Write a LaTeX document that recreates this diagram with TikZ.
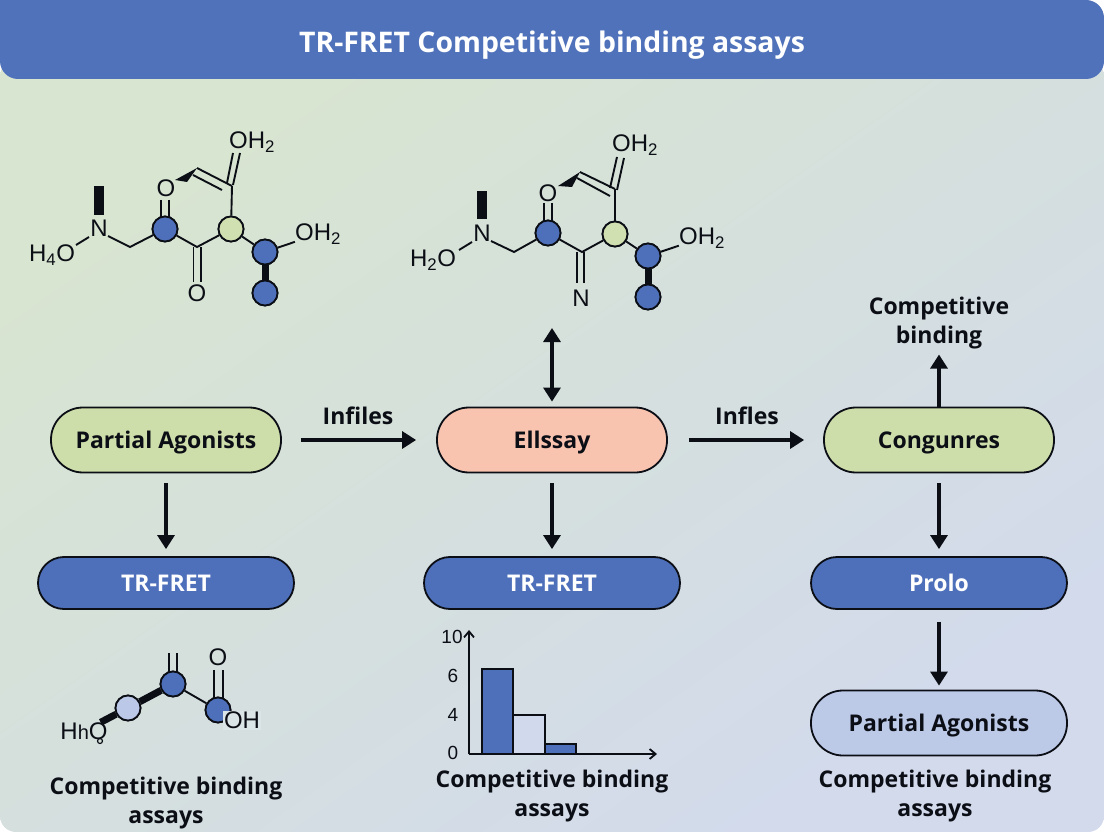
\documentclass[tikz,border=0pt]{standalone}
\usepackage{fontspec}
\setmainfont{Open Sans}
\newfontfamily\chemfont{Liberation Sans}
\usetikzlibrary{arrows.meta}
\definecolor{headblue}{RGB}{80,114,186}
\definecolor{pillblue}{RGB}{78,112,186}
\definecolor{pillgreen}{RGB}{205,222,170}
\definecolor{pillsalmon}{RGB}{248,196,176}
\definecolor{pilllav}{RGB}{188,201,231}
\definecolor{atomgreen}{RGB}{208,224,176}
\definecolor{atomlav}{RGB}{188,200,232}
\definecolor{barlight}{RGB}{208,218,236}
\definecolor{ink}{RGB}{12,14,22}
\definecolor{bgleft}{RGB}{216,229,208}
\definecolor{bgmid}{RGB}{219,228,230}
\definecolor{bgright}{RGB}{210,218,236}
\tikzset{
        pill/.style = {rectangle, draw=ink, line width=1.8pt, align=center, font=\fontsize{23}{27}\selectfont\bfseries, inner sep=0pt, text height=18pt, text depth=1.6pt},
        bigpill/.style = {pill, rounded corners=32pt, minimum width=230pt, minimum height=65pt},
        bluepill/.style = {pill, rounded corners=26pt, fill=pillblue, text=white, minimum width=256pt, minimum height=52pt},
        caption/.style = {align=center, text=ink, font=\fontsize{23}{29}\selectfont\bfseries},
        flow/.style = {line width=3.2pt, draw=ink, -{Triangle[width=17pt,length=14pt]}},
        atom/.style = {circle, draw=ink, line width=1.8pt, minimum size=25pt, inner sep=0pt},
        chem/.style = {text=ink, inner sep=0pt, font=\chemfont\fontsize{24}{24}\selectfont},
        tick/.style = {text=ink, inner sep=0pt, font=\chemfont\fontsize{19}{19}\selectfont},
        bond/.style = {line width=1.9pt, draw=ink},
        thickbond/.style = {line width=7pt, draw=ink},
        bar/.style = {draw=ink, line width=1.8pt}
}
\begin{document}
\begin{tikzpicture}[x=1pt, y=-1pt]
        \useasboundingbox (0,0) rectangle (1104,832);
        % backdrop and header
        \shade[top color=bgleft, middle color=bgmid, bottom color=bgright, shading angle=35, rounded corners=16pt] (0,60) rectangle (1104,832);
        \fill[headblue] (0,30) -- (0,0) [rounded corners=18pt] -- (1104,0) -- (1104,79) -- (0,79) [sharp corners] -- (0,30) -- cycle;
        \node[text=white, font=\fontsize{28.4}{32}\selectfont\bfseries] (title) at (552,45) {TR-FRET Competitive binding assays};

        % first row
        \node[bigpill, fill=pillgreen, text=ink] (partial) at (166,440) {Partial Agonists};
        \node[bigpill, fill=pillsalmon, text=ink] (essay) at (552,440) {Ellssay};
        \node[bigpill, fill=pillgreen, text=ink] (congunres) at (939,440) {Congunres};
        % second row
        \node[bluepill] (fretleft) at (166,583) {TR-FRET};
        \node[bluepill] (fretmid) at (552,583) {TR-FRET};
        \node[bluepill] (prolo) at (939,583) {Prolo};
        \node[pill, rounded corners=32pt, fill=pilllav, text=ink, minimum width=256pt, minimum height=65pt] (partialb) at (939,723) {Partial Agonists};

        \node[caption] (bindtop) at (939,323) {Competitive\\binding};
        \node[caption] (capleft) at (166,803) {Competitive binding\\assays};
        \node[caption] (capmid) at (552,796) {Competitive binding\\assays};
        \node[caption] (capright) at (935,796) {Competitive binding\\assays};
        \node[text=ink, font=\fontsize{23}{27}\selectfont\bfseries] (infiles) at (358,416) {Infiles};
        \node[text=ink, font=\fontsize{23}{27}\selectfont\bfseries] (infles) at (747,416) {Infles};

        \draw[flow, shorten <=19pt, shorten >=20pt] (partial) -- (essay);
        \draw[flow, shorten <=21pt, shorten >=19pt] (essay) -- (congunres);
        \draw[flow, shorten <=10pt, shorten >=7pt] (partial) -- (fretleft);
        \draw[flow, shorten <=10pt, shorten >=7pt] (essay) -- (fretmid);
        \draw[flow, shorten <=10pt, shorten >=7pt] (congunres) -- (prolo);
        \draw[flow, shorten <=12pt, shorten >=4pt] (prolo) -- (partialb);
        \draw[flow, shorten >=2pt] (congunres) -- (bindtop);
        \coordinate (updown) at (552,328);
        \draw[line width=3.2pt, draw=ink, {Triangle[width=17pt,length=14pt]}-{Triangle[width=17pt,length=14pt]}, shorten >=5pt] (updown) -- (essay);

        % left molecule
        \begin{scope}
                \node[chem] (ah) at (52,255) {H\textsubscript{4}O};
                \node[chem] (an) at (99,228) {N};
                \node[chem] (ao) at (166,188) {O};
                \node[chem] (aob) at (197,293) {O};
                \node[chem] (aoh) at (252,142) {OH\textsubscript{2}};
                \node[chem] (aohb) at (318,234) {OH\textsubscript{2}};
                \node[atom, fill=pillblue] (aa) at (165,229) {};
                \node[atom, fill=atomgreen] (ab) at (231,229) {};
                \node[atom, fill=pillblue] (ac) at (265,252) {};
                \node[atom, fill=pillblue] (ad) at (265,293) {};
                \coordinate (akink) at (130,247);
                \coordinate (amid) at (197,247);
                \coordinate (atop) at (197,168);
                \coordinate (aright) at (232,186);
                \fill[ink] (94,186) rectangle (104,215);
                \draw[bond] (76,245) -- (89,237);
                \draw[bond] (108,236) -- (akink) -- (aa);
                \draw[bond] (aa) -- (amid) -- (ab);
                \draw[bond] (aright) -- (ab);
                \draw[bond] (ab) -- (ac);
                \draw[bond] (ac) -- (aohb);
                \draw[thickbond] (ac) -- (ad);
                \draw[bond] (161,200) -- (161,218) (169,200) -- (169,218);
                \draw[bond] (193.5,247) -- (193.5,282) (201,247) -- (201,282);
                \fill[ink] (175,180) -- (atop) -- (187,182) -- cycle;
                \draw[bond] (atop) -- (aright) (193,175) -- (222,190);
                \draw[bond] (227,183) -- (233,153) (233,185) -- (240,153);
                \node[atom, fill=pillblue] at (aa) {};
                \node[atom, fill=atomgreen] at (ab) {};
                \node[atom, fill=pillblue] at (ac) {};
                \node[atom, fill=pillblue] at (ad) {};
        \end{scope}

        % top middle molecule
        \begin{scope}[shift={(383,4)}]
                \node[chem] (bh) at (50,256) {H\textsubscript{2}O};
                \node[chem] (bn) at (99,229) {N};
                \node[chem] (bo) at (165,189) {O};
                \node[chem] (bob) at (198,294) {N};
                \node[chem] (boh) at (252,141) {OH\textsubscript{2}};
                \node[chem] (bohb) at (319,234) {OH\textsubscript{2}};
                \node[atom, fill=pillblue] (ba) at (165,229) {};
                \node[atom, fill=atomgreen] (bb) at (232,230) {};
                \node[atom, fill=pillblue] (bc) at (265,252) {};
                \node[atom, fill=pillblue] (bd) at (265,293) {};
                \coordinate (bkink) at (131,248);
                \coordinate (bmid) at (199,248);
                \coordinate (btop) at (197,168);
                \coordinate (bright) at (232,185);
                \fill[ink] (94,187) rectangle (104,215);
                \draw[bond] (76,246) -- (89,238);
                \draw[bond] (108,237) -- (bkink) -- (ba);
                \draw[bond] (ba) -- (bmid) -- (bb);
                \draw[bond] (bright) -- (bb);
                \draw[bond] (bb) -- (bc);
                \draw[bond] (bc) -- (bohb);
                \draw[thickbond] (bc) -- (bd);
                \draw[bond] (161,199) -- (161,218) (169,199) -- (169,218);
                \draw[bond] (194,248) -- (194,279) (201,248) -- (201,279);
                \fill[ink] (175,182) -- (btop) -- (189,183) -- cycle;
                \draw[bond] (btop) -- (bright) (194,174) -- (227,192);
                \draw[bond] (227,184) -- (234,153) (234,186) -- (241,154);
                \node[atom, fill=pillblue] at (ba) {};
                \node[atom, fill=atomgreen] at (bb) {};
                \node[atom, fill=pillblue] at (bc) {};
                \node[atom, fill=pillblue] at (bd) {};
        \end{scope}

        % lower left molecule
        \node[atom, fill=atomlav] (ca) at (128,708) {};
        \node[atom, fill=pillblue] (cb) at (173,684) {};
        \node[atom, fill=pillblue] (cc) at (218,710) {};
        \node[chem] (co) at (218,657) {O};
        \node[chem] (ch) at (84,731) {H{\fontsize{20}{20}\selectfont h}O};
        \draw[line width=1.2pt, draw=ink] (100,741) circle (2.5);
        \draw[thickbond] (ca) -- (ch);
        \draw[thickbond] (ca) -- (cb);
        \draw[bond] (cb) -- (cc);
        \draw[bond] (169,653) -- (169,673) (177,653) -- (177,673);
        \draw[bond] (214,670) -- (214,698) (223,670) -- (223,698);
        \node[atom, fill=atomlav] at (ca) {};
        \node[atom, fill=pillblue] at (cb) {};
        \node[atom, fill=pillblue] at (cc) {};
        \node[chem, fill=bgmid, inner sep=1pt] (coh) at (242,720) {OH};

        % bar chart
        \fill[fill=pillblue] (482,669) rectangle (513,754);
        \fill[fill=barlight] (513,715) rectangle (545,754);
        \fill[fill=pillblue] (545,744) rectangle (576,754);
        \draw[bar] (482,669) rectangle (513,754);
        \draw[bar] (513,715) rectangle (545,754);
        \draw[bar] (545,744) rectangle (576,754);
        \coordinate (origin) at (469,754);
        \coordinate (xend) at (657,754);
        \coordinate (yend) at (469,630);
        \draw[line width=1.8pt, draw=ink, -{Straight Barb[width=10pt,length=6pt]}] (origin) -- (xend);
        \draw[line width=1.8pt, draw=ink, -{Straight Barb[width=10pt,length=6pt]}] (origin) -- (yend);
        \node[tick] (tten) at (452,637) {10};
        \node[tick] (tsix) at (453,676) {6};
        \node[tick] (tfour) at (453,715) {4};
        \node[tick] (tzero) at (453,753) {0};
\end{tikzpicture}
\end{document}
